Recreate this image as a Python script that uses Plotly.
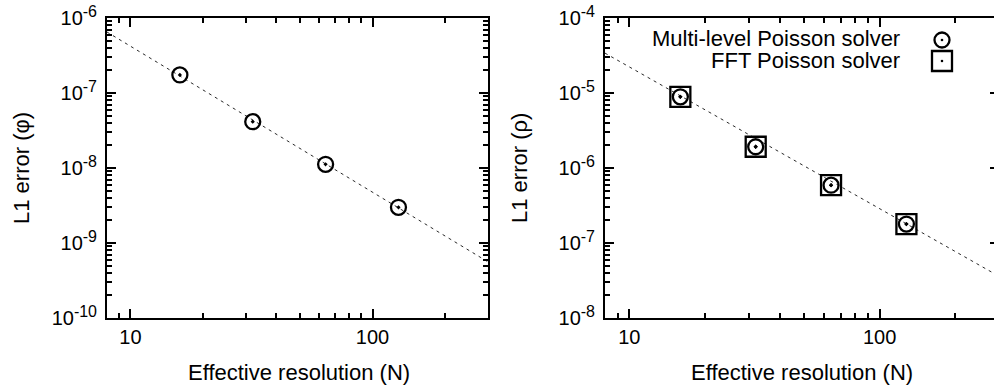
import math
import plotly.graph_objects as go

# ---- data ----
N = [16, 32, 64, 128]
phi_err = [1.74e-7, 4.15e-8, 1.12e-8, 2.99e-9]
rho_err_multi = [8.9e-6, 1.92e-6, 5.9e-7, 1.79e-7]
rho_err_fft = [8.9e-6, 1.92e-6, 5.9e-7, 1.79e-7]
ref_N = [8, 300]
phi_ref = [6.5e-7, 5.6e-10]
rho_ref = [3.4e-5, 3.6e-8]
x_ticks = [10, 100]
x_ticktext = ["10", "100"]
phi_ticks = [1e-10, 1e-9, 1e-8, 1e-7, 1e-6]
phi_exponents = ["-10", "-9", "-8", "-7", "-6"]
rho_ticks = [1e-8, 1e-7, 1e-6, 1e-5, 1e-4]
rho_exponents = ["-8", "-7", "-6", "-5", "-4"]
x_title = "Effective resolution (N)"
y_title_left = "L1 error (φ)"
y_title_right = "L1 error (ρ)"
legend_labels = ["Multi-level Poisson solver", "FFT Poisson solver"]

VW, VH = 994, 387          # visible page
W, H = 1000, 387           # figure (right edge cropped like the reference)
FONT = "Liberation Sans, Arial, Helvetica, sans-serif"
EPS = 1e-4


def sup_label(e):
    return "10<sup><span style='font-size:16px'>%s</span></sup>" % e


phi_ticktext = [sup_label(e) for e in phi_exponents]
rho_ticktext = [sup_label(e) for e in rho_exponents]


def fx(p):
    return p / W


def fy(p):
    return 1 - p / H


fig = go.Figure()

dash_line = dict(color="#2a2a2a", width=1, dash="3px,4px")
circ = dict(symbol="circle-open-dot", size=15, color="black", line=dict(width=2.3, color="black"))
sq = dict(symbol="square-open-dot", size=20, color="black", line=dict(width=2.3, color="black"))

fig.add_trace(go.Scatter(x=ref_N, y=phi_ref, mode="lines", line=dash_line,
                         xaxis="x", yaxis="y", showlegend=False, hoverinfo="skip"))
fig.add_trace(go.Scatter(x=N, y=phi_err, mode="markers", marker=circ,
                         xaxis="x", yaxis="y", showlegend=False))

fig.add_trace(go.Scatter(x=ref_N, y=rho_ref, mode="lines", line=dash_line,
                         xaxis="x2", yaxis="y2", showlegend=False, hoverinfo="skip"))
fig.add_trace(go.Scatter(x=N, y=rho_err_fft, mode="markers", marker=sq,
                         xaxis="x2", yaxis="y2", name=legend_labels[1], showlegend=False))
fig.add_trace(go.Scatter(x=N, y=rho_err_multi, mode="markers", marker=circ,
                         xaxis="x2", yaxis="y2", name=legend_labels[0], showlegend=False))

tickfont = dict(family=FONT, size=20, color="black")
titlefont = dict(family=FONT, size=22, color="black")
minor_common = dict(ticks="inside", ticklen=5, tickwidth=1.5, tickcolor="black", showgrid=False)

ydom = [fy(318), fy(18)]


def xax(domain, anchor):
    return dict(type="log", domain=domain, range=[math.log10(8), math.log10(300)], anchor=anchor,
                tickmode="array", tickvals=x_ticks, ticktext=x_ticktext,
                ticks="inside", ticklen=9, tickwidth=1.5, tickcolor="black",
                showline=True, linewidth=2, linecolor="black", mirror="ticks",
                showgrid=False, zeroline=False, automargin=False,
                tickfont=tickfont,
                minor=dict(dtick="D1", **minor_common))


def yax(rng, anchor, tv, tt):
    return dict(type="log", domain=ydom, range=[rng[0] - EPS, rng[1] + EPS], anchor=anchor,
                tickmode="array", tickvals=tv, ticktext=tt,
                ticks="inside", ticklen=9, tickwidth=1.5, tickcolor="black",
                showline=True, linewidth=2, linecolor="black", mirror="ticks",
                showgrid=False, zeroline=False, automargin=False,
                ticklabelstandoff=4,
                tickfont=tickfont,
                minor=dict(dtick="D1", **minor_common))


fig.update_layout(
    width=W, height=H, template="none",
    margin=dict(l=0, r=0, t=0, b=0),
    paper_bgcolor="white", plot_bgcolor="white",
    font=dict(family=FONT, color="black"),
    showlegend=False,
    xaxis=xax([fx(107), fx(488)], "y"),
    yaxis=yax([-10, -6], "x", phi_ticks, phi_ticktext),
    xaxis2=xax([fx(605), fx(999)], "y2"),
    yaxis2=yax([-8, -4], "x2", rho_ticks, rho_ticktext),
)

# axis titles
for cx, t in ((299, x_title), (802, x_title)):
    fig.add_annotation(x=fx(cx), y=fy(372), xref="paper", yref="paper", text=t,
                       showarrow=False, xanchor="center", yanchor="middle", font=titlefont)
for cx, t in ((21, y_title_left), (519, y_title_right)):
    fig.add_annotation(x=fx(cx), y=fy(168), xref="paper", yref="paper", text=t, textangle=-90,
                       showarrow=False, xanchor="center", yanchor="middle", font=titlefont)

# legend (text right-aligned, symbol to the right)
rows = [39, 60]
for lab, r in zip(legend_labels, rows):
    fig.add_annotation(x=fx(901), y=fy(r), xref="paper", yref="paper", text=lab,
                       showarrow=False, xanchor="right", yanchor="middle", borderpad=0,
                       font=dict(family=FONT, size=22, color="black"))
cx = 942
cy0, cy1 = 40, 61
fig.add_shape(type="circle", xref="paper", yref="paper",
              x0=fx(cx - 7.5), x1=fx(cx + 7.5), y0=fy(cy0 + 7.5), y1=fy(cy0 - 7.5),
              line=dict(color="black", width=2.3))
fig.add_shape(type="rect", xref="paper", yref="paper",
              x0=fx(cx - 10), x1=fx(cx + 10), y0=fy(cy1 + 10), y1=fy(cy1 - 10),
              line=dict(color="black", width=2.3))
for cy in (cy0, cy1):
    fig.add_shape(type="circle", xref="paper", yref="paper",
                  x0=fx(cx - 1.3), x1=fx(cx + 1.3), y0=fy(cy + 1.3), y1=fy(cy - 1.3),
                  line=dict(width=0), fillcolor="black")

post = (
    "document.documentElement.style.margin='0';"
    "document.body.style.margin='0';"
    "document.documentElement.style.overflow='hidden';"
    "document.body.style.overflow='hidden';"
    "var d=document.getElementById('{plot_id}');"
    "var p=d.parentElement;"
    "p.style.width='%dpx';p.style.height='%dpx';p.style.overflow='hidden';" % (VW, VH)
)
fig.write_html("out.html", post_script=post, config={"displayModeBar": False})
